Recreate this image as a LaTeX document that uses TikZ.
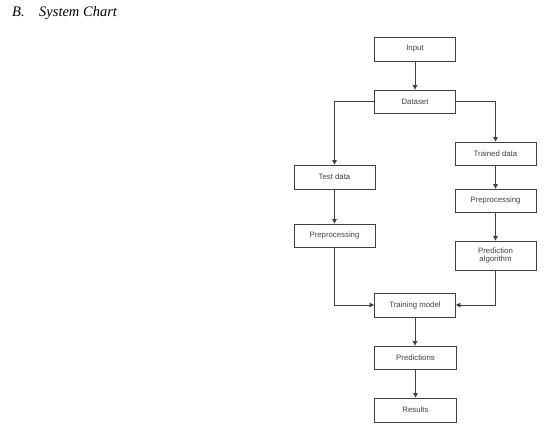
\documentclass[tikz,border=0pt]{standalone}
\usepackage{fontspec}
\setmainfont{Liberation Serif}
\newfontfamily\boxfont{Liberation Sans}
\usetikzlibrary{arrows.meta}
\begin{document}
\begin{tikzpicture}[x=1pt,y=-1pt,
  flowbox/.style={draw=black!75,line width=0.8pt,rectangle,minimum width=81pt,minimum height=24pt,inner sep=1pt,align=center,font=\boxfont\fontsize{7.8}{8.8}\selectfont,text=black!75},
  conn/.style={draw=black!75,line width=0.8pt,-{Triangle[length=4.5pt,width=4.5pt]}},
  titletext/.style={font=\itshape\fontsize{14.5}{16}\selectfont,inner sep=0pt}]
\useasboundingbox (0,0) rectangle (555,432);
\node[titletext,anchor=base west] (lbl) at (12,16) {B.};
\node[titletext,anchor=base west] (ttl) at (39,16) {System Chart};
\node[flowbox] (input) at (415,49) {Input};
\node[flowbox,minimum height=23pt] (dataset) at (415,101.5) {Dataset};
\node[flowbox,minimum height=23pt] (trained) at (495.5,153.5) {Trained data};
\node[flowbox] (test) at (334.5,177) {Test data};
\node[flowbox,minimum height=23pt] (pre2) at (495.5,200.5) {Preprocessing};
\node[flowbox,minimum height=23pt] (pre1) at (334.5,235.5) {Preprocessing};
\node[flowbox,minimum height=29pt] (predalg) at (495.5,255.5) {Prediction\\algorithm};
\node[flowbox] (train) at (415,305) {Training model};
\node[flowbox,minimum height=23pt,minimum width=82pt] (preds) at (415.5,357.5) {Predictions};
\node[flowbox,minimum width=82pt] (results) at (415.5,410) {Results};
\draw[conn] (input) -- (dataset);
\draw[conn] (dataset.west) -| (test.north);
\draw[conn] (dataset.east) -| (trained.north);
\draw[conn] (test) -- (pre1);
\draw[conn] (trained) -- (pre2);
\draw[conn] (pre2) -- (predalg);
\draw[conn] (pre1.south) |- (train.west);
\draw[conn] (predalg.south) |- (train.east);
\draw[conn] (train) -- (preds.north -| train);
\draw[conn] (preds) -- (results);
\end{tikzpicture}
\end{document}
